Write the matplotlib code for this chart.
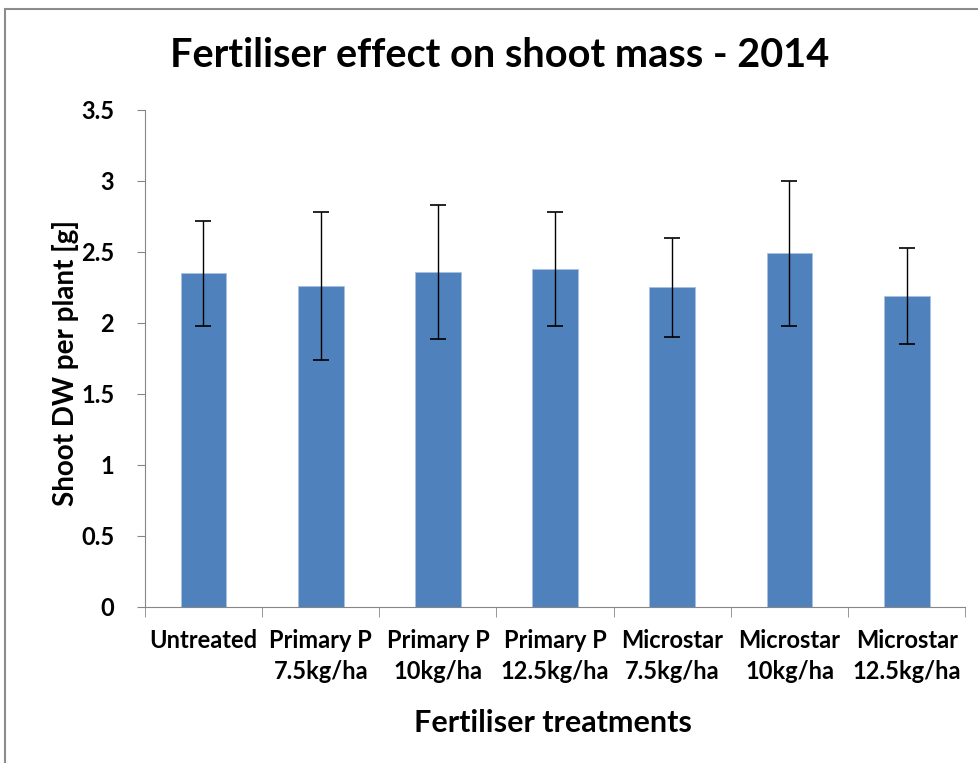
import matplotlib.pyplot as plt
import numpy as np
from matplotlib.patches import Rectangle

treatments = ["Untreated", "Primary P\n7.5kg/ha", "Primary P\n10kg/ha", "Primary P\n12.5kg/ha",
              "Microstar\n7.5kg/ha", "Microstar\n10kg/ha", "Microstar\n12.5kg/ha"]
shoot_dw = [2.35, 2.26, 2.36, 2.38, 2.25, 2.49, 2.19]
shoot_err = [0.37, 0.52, 0.47, 0.40, 0.35, 0.51, 0.34]
y_ticks = [0, 0.5, 1, 1.5, 2, 2.5, 3, 3.5]

plt.rcParams['font.family'] = ['Lato', 'DejaVu Sans']

fig = plt.figure(figsize=(9.79, 7.63), dpi=100)
fig.patches.append(Rectangle((0.005, -0.01), 1.0, 0.998, transform=fig.transFigure,
                             fill=False, edgecolor='#8c8c8c', linewidth=1.5))
ax = fig.add_axes([0.148, 0.2045, 0.838, 0.6515])

x = np.arange(len(treatments))
ax.bar(x, shoot_dw, width=0.39, color='#4F81BD', edgecolor='#a9c1e0', linewidth=0.6,
       yerr=shoot_err, capsize=6, error_kw=dict(ecolor='black', elinewidth=1, capthick=1.2))

ax.set_xlim(-0.5, len(treatments) - 0.5)
ax.set_ylim(0, 3.5)
ax.set_yticks(y_ticks)
ax.set_yticklabels([f"{v:g}" for v in y_ticks], fontsize=17, fontweight='bold')
ax.set_xticks(x)
ax.set_xticklabels(treatments, fontsize=17, fontweight='bold', linespacing=1.42)
ax.tick_params(axis='x', length=0, pad=16)
ax.set_xticks(np.arange(-0.5, len(treatments)), minor=True)
ax.tick_params(axis='x', which='minor', length=7, color='#868686')
ax.tick_params(axis='y', length=6, color='#868686', pad=16)

for s in ['top', 'right']:
    ax.spines[s].set_visible(False)
for s in ['left', 'bottom']:
    ax.spines[s].set_color('#868686')

ax.set_ylabel("Shoot DW per plant [g]", fontsize=20, fontweight='bold')
ax.yaxis.set_label_coords(-0.08, 0.49)
fig.text(0.565, 0.0406, "Fertiliser treatments", ha='center', va='baseline',
         fontsize=22, fontweight='bold')
fig.text(0.51, 0.912, "Fertiliser effect on shoot mass - 2014", ha='center', va='baseline',
         fontsize=28.5, fontweight='bold')

fig.savefig("out.png", dpi=100)
